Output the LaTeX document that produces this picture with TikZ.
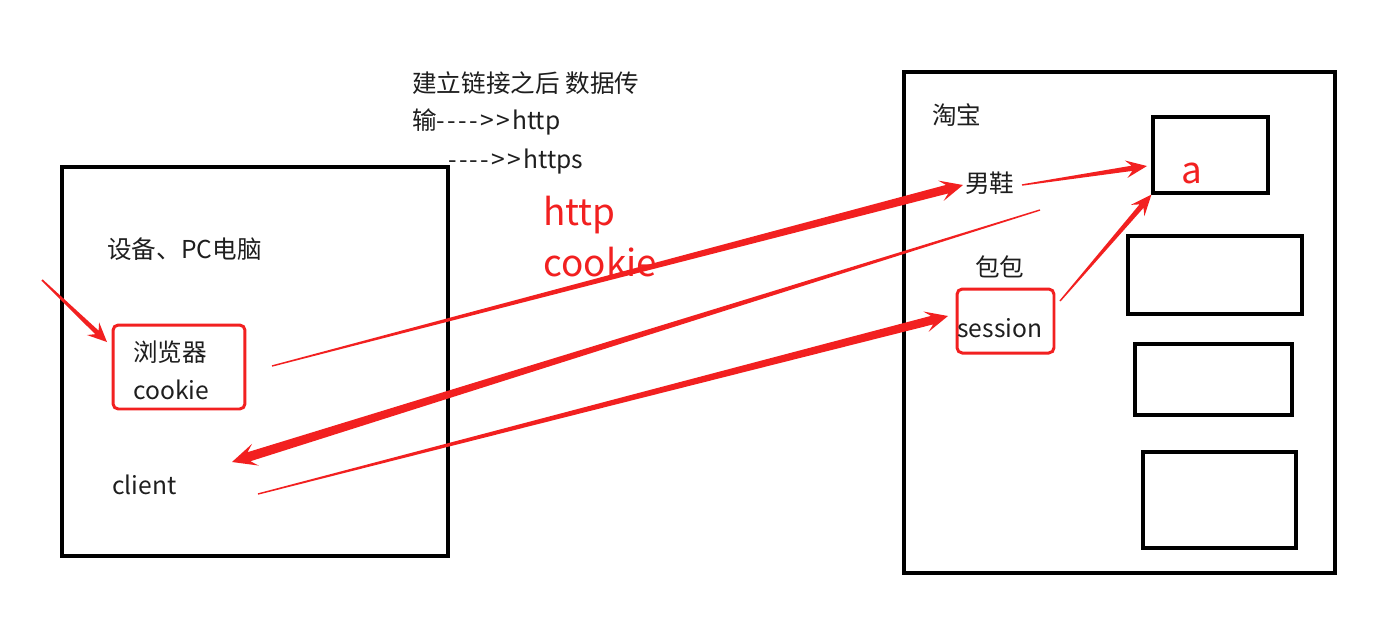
\documentclass[tikz,border=0pt]{standalone}
\usepackage{fontspec}
\setmainfont{Noto Sans CJK SC}
\usepackage{xcolor}
\usetikzlibrary{positioning, calc}

\definecolor{arrowred}{RGB}{242,32,32}
\definecolor{inkgray}{RGB}{30,30,30}

% tapered pen arrow: tail, tip, tail half width, shaft half width, head half width, head length
\newcommand{\taperarrow}[6]{%
  \fill[arrowred]
    ($(#1)!#3!-90:(#2)$) --
    ($(#2)!0.72*#6!(#1)!#4!90:(#1)$) --
    ($(#2)!#6!(#1)!#5!90:(#1)$) --
    (#2) --
    ($(#2)!#6!(#1)!#5!-90:(#1)$) --
    ($(#2)!0.72*#6!(#1)!#4!-90:(#1)$) --
    ($(#1)!#3!90:(#2)$) -- cycle;}
\newcommand{\gapk}{\kern1.3pt}

\begin{document}
\begin{tikzpicture}[
    x=0.02cm, y=-0.02cm,
    blackbox/.style={draw, line width=1.8pt, inner sep=0pt},
    redbox/.style={draw=arrowred, line width=1.7pt, rounded corners=3pt, inner sep=0pt},
    txt/.style={anchor=west, inner sep=0pt, text=inkgray, font=\fontsize{14}{17}\selectfont},
    redtxt/.style={anchor=west, inner sep=0pt, text=arrowred, font=\fontsize{21}{25}\selectfont}
]

\fill[white] (0,0) rectangle (1379,627);
\useasboundingbox (0,0) rectangle (1379,627);

% client side
\node[blackbox, minimum width=7.72cm, minimum height=7.78cm] (pc) at (255,361.5) {};
\node[redbox, minimum width=2.64cm, minimum height=1.68cm] (browserbox) at (179,367) {};
\node[txt] (device) at (107,249) {设备、PC电脑};
\node[txt] (browser) at (133,352) {浏览器};
\node[txt] (cookie) at (133,390) {cookie};
\node[txt] (client) at (112,485) {client};

% server side
\node[blackbox, minimum width=8.62cm, minimum height=10.02cm] (taobao) at (1119.5,322.5) {};
\node[blackbox, minimum width=2.30cm, minimum height=1.52cm] (boxa) at (1210.5,155) {};
\node[blackbox, minimum width=3.48cm, minimum height=1.56cm] (boxb) at (1215,275) {};
\node[blackbox, minimum width=3.14cm, minimum height=1.42cm] (boxc) at (1213.5,379.5) {};
\node[blackbox, minimum width=3.06cm, minimum height=1.92cm] (boxd) at (1219.5,500) {};
\node[redbox, minimum width=1.94cm, minimum height=1.28cm] (sessionbox) at (1005.5,321) {};
\node[txt] (shop) at (932,115) {淘宝};
\node[txt] (shoes) at (965,183) {男鞋};
\node[txt] (bags) at (975,267) {包包};
\node[txt] (session) at (957,328) {session};
\node[redtxt] (keya) at (1181,173) {a};

% notes
\node[txt] (note1) at (412,83) {建立链接之后 数据传};
\node[txt] (note2) at (412,122) {输-\gapk-\gapk-\gapk-\gapk>\gapk>\gapk http};
\node[txt] (note3) at (448,162) {-\gapk-\gapk-\gapk-\gapk>\gapk>\gapk https};
\node[redtxt] (proto) at (543,215) {http};
\node[redtxt] (cookiered) at (543,262) {cookie};

% arrow ends
\coordinate (entry) at (42,280);
\coordinate (entrytip) at (107,342);
\coordinate (reqtail) at (272,366);
\coordinate (reqtip) at (963,185);
\coordinate (resptail) at (1040,210);
\coordinate (resptip) at (232,462);
\coordinate (againtail) at (258,494);
\coordinate (againtip) at (948,316);
\coordinate (shoestail) at (1022,185);
\coordinate (shoestip) at (1147,166);
\coordinate (sesstail) at (1060,301);

\taperarrow{entry}{entrytip}{0.5pt}{1.4pt}{5pt}{11pt}
\taperarrow{reqtail}{reqtip}{0.4pt}{2.5pt}{6pt}{13pt}
\taperarrow{resptail}{resptip}{0.4pt}{2.7pt}{6.5pt}{14pt}
\taperarrow{againtail}{againtip}{0.4pt}{2.5pt}{6pt}{13pt}
\taperarrow{shoestail}{shoestip}{0.4pt}{1.5pt}{5pt}{12pt}
\taperarrow{sesstail}{boxa.south west}{0.4pt}{1.5pt}{5pt}{12pt}

\end{tikzpicture}
\end{document}
